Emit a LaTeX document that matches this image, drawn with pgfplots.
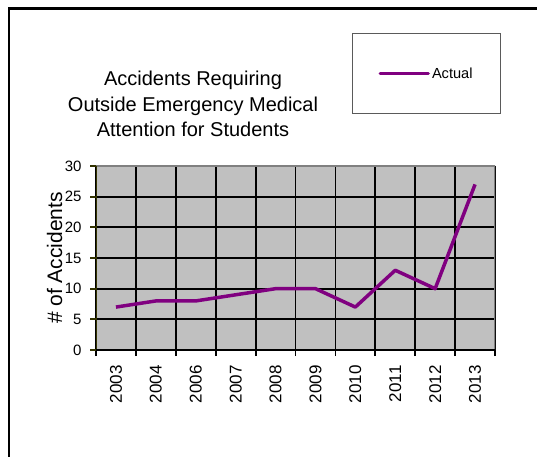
\documentclass[border=0pt]{standalone}
\usepackage{fontspec}
\setmainfont{Liberation Sans}
\usepackage{pgfplots}
\pgfplotsset{compat=1.18}
\definecolor{plotbg}{RGB}{192,192,192}
\definecolor{linepurple}{RGB}{128,0,128}
\definecolor{framegray}{RGB}{128,128,128}
\definecolor{axisolive}{RGB}{51,51,0}

\begin{document}
\begin{tikzpicture}
\useasboundingbox (0,0) rectangle (537pt,460pt);
% outer frame (top and left edges)
\draw[line width=2.5pt] (537pt,451.5pt) -- (9pt,451.5pt) -- (9pt,3pt);
\begin{axis}[
  at={(96pt,110pt)}, anchor=south west,
  scale only axis, width=399pt, height=184pt,
  xmin=-0.5, xmax=9.5, ymin=0, ymax=30,
  axis background/.style={fill=plotbg},
  axis line style={draw=none},
  xtick={-0.5,0.5,1.5,2.5,3.5,4.5,5.5,6.5,7.5,8.5,9.5},
  x tick label as interval,
  xticklabels={2003,2004,2006,2007,2008,2009,2010,2011,2012,2013},
  ytick={0,5,...,30},
  xtick pos=bottom, ytick pos=left,
  grid=major,
  grid style={black, line width=1.8pt},
  tick align=outside, major tick length=6pt,
  x tick style={black, line width=1.8pt},
  y tick style={axisolive, line width=1.8pt},
  /pgf/number format/assume math mode=true,
  yticklabel style={font=\fontsize{15}{18}\selectfont, xshift=-5pt},
  xticklabel style={font=\fontsize{17}{20}\selectfont, rotate=90, anchor=east},
  xticklabel shift=6pt,
  ylabel={\# of Accidents},
  ylabel style={at={(axis description cs:-0.1040,0.5)}, anchor=center,
    font=\fontsize{21}{24}\selectfont},
  title={Accidents Requiring\\Outside Emergency Medical\\Attention for Students},
  title style={at={(axis description cs:0.2431,1.4840)}, anchor=north,
    align=center, inner sep=0pt, font=\fontsize{20}{25.5}\selectfont},
  legend style={at={(axis description cs:0.6416,1.7228)}, anchor=north west,
    draw=framegray!70!black, line width=1pt, inner xsep=26pt, inner ysep=32pt,
    font=\fontsize{14.6}{17}\selectfont},
  legend image code/.code={\draw[#1, line cap=round] (7pt,0pt) -- (55pt,0pt);},
]
\addplot[linepurple, line width=3.5pt, line join=round]
  coordinates {(0,7) (1,8) (2,8) (3,9) (4,10) (5,10) (6,7) (7,13) (8,10) (9,27)};
\addlegendentry{Actual}
% plot-area border
\draw[framegray, line width=2pt] (rel axis cs:0,1) -- (rel axis cs:1,1) -- (rel axis cs:1,0);
\draw[axisolive, line width=2pt] (rel axis cs:0,0) -- (rel axis cs:0,1);
\draw[black, line width=2pt] (rel axis cs:0,0) -- (rel axis cs:1,0);
\end{axis}
\end{tikzpicture}
\end{document}
